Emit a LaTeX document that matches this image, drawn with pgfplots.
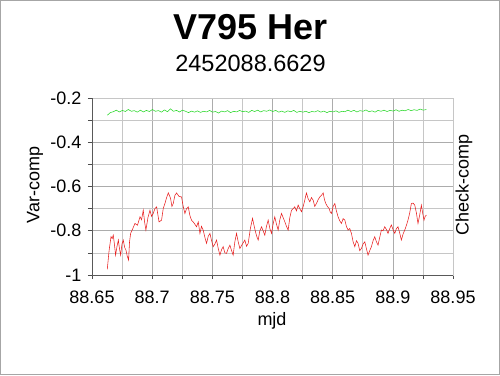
\documentclass[border=0pt]{standalone}
\usepackage{fontspec}
\setmainfont{Liberation Sans}
\usepackage{pgfplots}
\pgfplotsset{compat=1.18}
\definecolor{redline}{RGB}{232,30,30}
\definecolor{greenline}{RGB}{40,215,40}
\begin{document}
\begin{tikzpicture}[x=1pt,y=1pt]
\useasboundingbox (0,0) rectangle (500,375);
\draw[gray!70, line width=1pt] (0.5,0.5) rectangle (499.5,374.5);
\begin{axis}[
  at={(92pt,100pt)}, anchor=south west,
  scale only axis, width=361pt, height=177pt,
  xmin=88.65, xmax=88.95, ymin=-1, ymax=-0.2,
  xtick={88.65,88.7,88.75,88.8,88.85,88.9,88.95},
  xticklabels={88.65,88.7,88.75,88.8,88.85,88.9,88.95},
  minor xtick={88.675,88.725,88.775,88.825,88.875,88.925},
  ytick={-1,-0.8,-0.6,-0.4,-0.2},
  yticklabels={-1,-0.8,-0.6,-0.4,-0.2},
  minor ytick={-0.9,-0.7,-0.5,-0.3},
  grid=both,
  major grid style={gray!65, line width=0.6pt},
  minor grid style={gray!45, line width=0.6pt},
  axis line style={gray!45, line width=0.6pt},
  tick style={black!70, line width=0.6pt},
  tick align=outside,
  xtick pos=left, ytick pos=left,
  major tick length=4pt, minor tick length=4pt,
  ticklabel style={font=\fontsize{18}{18}\selectfont},
  xticklabel style={yshift=-8pt},
  yticklabel style={xshift=-3pt},
  /pgf/number format/assume math mode=true,
]
\addplot[redline, line width=0.55pt] coordinates {
(88.6627,-0.974) (88.6642,-0.890) (88.6658,-0.827) (88.6668,-0.835) (88.6677,-0.820)
(88.6686,-0.860) (88.6696,-0.910) (88.6708,-0.870) (88.6719,-0.842) (88.6728,-0.880)
(88.6738,-0.910) (88.6749,-0.860) (88.6760,-0.842) (88.6771,-0.875) (88.6782,-0.887)
(88.6793,-0.915) (88.6804,-0.932) (88.6812,-0.850) (88.6821,-0.812) (88.6839,-0.790)
(88.6857,-0.767) (88.6878,-0.775) (88.6899,-0.737) (88.6912,-0.750) (88.6926,-0.707)
(88.6937,-0.760) (88.6948,-0.797) (88.6965,-0.740) (88.6982,-0.707) (88.6995,-0.735)
(88.7009,-0.722) (88.7023,-0.700) (88.7037,-0.692) (88.7057,-0.760) (88.7078,-0.752)
(88.7092,-0.700) (88.7106,-0.677) (88.7120,-0.650) (88.7134,-0.629) (88.7143,-0.640)
(88.7153,-0.654) (88.7164,-0.690) (88.7175,-0.677) (88.7189,-0.640) (88.7203,-0.629)
(88.7223,-0.645) (88.7244,-0.647) (88.7258,-0.690) (88.7272,-0.722) (88.7286,-0.700)
(88.7300,-0.692) (88.7313,-0.730) (88.7327,-0.752) (88.7348,-0.765) (88.7369,-0.782)
(88.7383,-0.760) (88.7397,-0.812) (88.7410,-0.780) (88.7424,-0.797) (88.7438,-0.830)
(88.7452,-0.857) (88.7466,-0.825) (88.7480,-0.812) (88.7494,-0.845) (88.7507,-0.872)
(88.7521,-0.860) (88.7535,-0.842) (88.7549,-0.880) (88.7563,-0.910) (88.7577,-0.885)
(88.7590,-0.872) (88.7604,-0.900) (88.7618,-0.902) (88.7632,-0.880) (88.7646,-0.865)
(88.7660,-0.890) (88.7673,-0.910) (88.7687,-0.850) (88.7701,-0.812) (88.7715,-0.850)
(88.7729,-0.880) (88.7750,-0.860) (88.7770,-0.842) (88.7784,-0.870) (88.7798,-0.857)
(88.7816,-0.790) (88.7834,-0.744) (88.7848,-0.780) (88.7862,-0.812) (88.7872,-0.830)
(88.7881,-0.842) (88.7895,-0.800) (88.7909,-0.782) (88.7922,-0.800) (88.7936,-0.820)
(88.7950,-0.780) (88.7964,-0.752) (88.7978,-0.790) (88.7992,-0.812) (88.8005,-0.770)
(88.8019,-0.737) (88.8033,-0.770) (88.8047,-0.797) (88.8061,-0.750) (88.8075,-0.722)
(88.8088,-0.740) (88.8102,-0.759) (88.8116,-0.780) (88.8130,-0.797) (88.8144,-0.740)
(88.8158,-0.707) (88.8171,-0.700) (88.8185,-0.692) (88.8199,-0.710) (88.8213,-0.684)
(88.8227,-0.700) (88.8241,-0.714) (88.8255,-0.690) (88.8268,-0.662) (88.8275,-0.645)
(88.8282,-0.629) (88.8296,-0.655) (88.8310,-0.669) (88.8324,-0.650) (88.8338,-0.662)
(88.8351,-0.690) (88.8365,-0.677) (88.8379,-0.660) (88.8393,-0.647) (88.8407,-0.640)
(88.8421,-0.629) (88.8432,-0.660) (88.8443,-0.677) (88.8456,-0.690) (88.8470,-0.699)
(88.8480,-0.715) (88.8490,-0.722) (88.8504,-0.690) (88.8518,-0.677) (88.8531,-0.710)
(88.8545,-0.737) (88.8559,-0.755) (88.8573,-0.767) (88.8587,-0.745) (88.8601,-0.752)
(88.8614,-0.780) (88.8628,-0.797) (88.8642,-0.790) (88.8656,-0.812) (88.8670,-0.850)
(88.8684,-0.872) (88.8698,-0.845) (88.8711,-0.857) (88.8725,-0.890) (88.8739,-0.880)
(88.8753,-0.860) (88.8767,-0.850) (88.8780,-0.880) (88.8794,-0.910) (88.8808,-0.890)
(88.8822,-0.872) (88.8836,-0.845) (88.8850,-0.827) (88.8864,-0.850) (88.8877,-0.865)
(88.8891,-0.830) (88.8905,-0.797) (88.8919,-0.800) (88.8933,-0.782) (88.8947,-0.795)
(88.8960,-0.812) (88.8974,-0.790) (88.8988,-0.774) (88.9002,-0.795) (88.9016,-0.812)
(88.9030,-0.790) (88.9043,-0.782) (88.9057,-0.810) (88.9071,-0.842) (88.9085,-0.815)
(88.9099,-0.797) (88.9113,-0.775) (88.9126,-0.752) (88.9140,-0.720) (88.9154,-0.677)
(88.9168,-0.675) (88.9182,-0.684) (88.9196,-0.720) (88.9209,-0.767) (88.9223,-0.730)
(88.9237,-0.684) (88.9248,-0.720) (88.9259,-0.752) (88.9269,-0.735) (88.9279,-0.729)
};
\addplot[greenline, line width=0.55pt] coordinates {
(88.6627,-0.278) (88.6652,-0.266) (88.6677,-0.262) (88.6702,-0.255) (88.6727,-0.263)
(88.6752,-0.256) (88.6777,-0.261) (88.6802,-0.252) (88.6827,-0.260) (88.6852,-0.257)
(88.6877,-0.264) (88.6902,-0.255) (88.6927,-0.263) (88.6952,-0.256) (88.6977,-0.261)
(88.7002,-0.252) (88.7027,-0.260) (88.7052,-0.257) (88.7077,-0.264) (88.7102,-0.254)
(88.7127,-0.262) (88.7152,-0.249) (88.7177,-0.260) (88.7202,-0.256) (88.7227,-0.263)
(88.7252,-0.255) (88.7277,-0.260) (88.7302,-0.266) (88.7327,-0.259) (88.7352,-0.264)
(88.7377,-0.258) (88.7402,-0.265) (88.7427,-0.260) (88.7452,-0.263) (88.7477,-0.256)
(88.7502,-0.264) (88.7527,-0.261) (88.7552,-0.268) (88.7577,-0.259) (88.7602,-0.263)
(88.7627,-0.257) (88.7652,-0.266) (88.7677,-0.260) (88.7702,-0.263) (88.7727,-0.256)
(88.7752,-0.262) (88.7777,-0.259) (88.7802,-0.265) (88.7827,-0.256) (88.7852,-0.261)
(88.7877,-0.255) (88.7902,-0.263) (88.7927,-0.257) (88.7952,-0.260) (88.7977,-0.254)
(88.8002,-0.261) (88.8027,-0.256) (88.8052,-0.264) (88.8077,-0.259) (88.8102,-0.265)
(88.8127,-0.258) (88.8152,-0.262) (88.8177,-0.256) (88.8202,-0.265) (88.8227,-0.260)
(88.8252,-0.264) (88.8277,-0.260) (88.8302,-0.266) (88.8327,-0.261) (88.8352,-0.263)
(88.8377,-0.257) (88.8402,-0.264) (88.8427,-0.259) (88.8452,-0.266) (88.8477,-0.260)
(88.8502,-0.263) (88.8527,-0.258) (88.8552,-0.265) (88.8577,-0.260) (88.8602,-0.262)
(88.8627,-0.255) (88.8652,-0.261) (88.8677,-0.256) (88.8702,-0.263) (88.8727,-0.257)
(88.8752,-0.260) (88.8777,-0.254) (88.8802,-0.262) (88.8827,-0.258) (88.8852,-0.264)
(88.8877,-0.256) (88.8902,-0.260) (88.8927,-0.255) (88.8952,-0.261) (88.8977,-0.256)
(88.9002,-0.259) (88.9027,-0.253) (88.9052,-0.260) (88.9077,-0.255) (88.9102,-0.258)
(88.9127,-0.252) (88.9152,-0.257) (88.9177,-0.253) (88.9202,-0.256) (88.9227,-0.250)
(88.9252,-0.255) (88.9279,-0.252)
};
\draw[black!65, line width=0.8pt] (rel axis cs:0,1) -- (rel axis cs:0,0) -- (rel axis cs:1,0);
\end{axis}
\node[anchor=base, font=\fontsize{36}{36}\selectfont\bfseries] at (251,335) {V795 Her};
\node[anchor=base, font=\fontsize{23.5}{24}\selectfont] at (250.5,303.5) {2452088.6629};
\node[anchor=base, font=\fontsize{18}{18}\selectfont] at (272,50) {mjd};
\node[rotate=90, font=\fontsize{18}{18}\selectfont] at (35,190) {Var-comp};
\node[rotate=90, font=\fontsize{18}{18}\selectfont] at (464,190) {Check-comp};
\end{tikzpicture}
\end{document}
